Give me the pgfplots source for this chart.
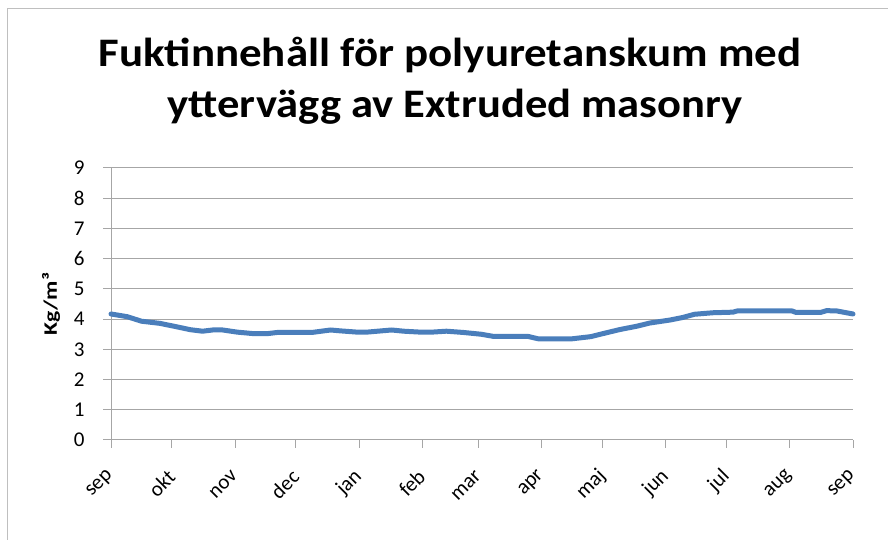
\documentclass[border=0pt]{standalone}
\usepackage{fontspec}
\setmainfont{Carlito}
\usepackage{pgfplots}
\pgfplotsset{compat=1.18}
\definecolor{lineblue}{HTML}{4A7EBB}
\definecolor{gridgray}{HTML}{A6A6A6}
\definecolor{framegray}{HTML}{BFBFBF}
\begin{document}
\begin{tikzpicture}
\useasboundingbox (0pt,0pt) rectangle (888pt,540pt);
\draw[framegray, line width=1pt] (7pt,0pt) -- (7pt,531pt) -- (888pt,531pt);
\node[font=\fontsize{40.5}{48}\selectfont\bfseries, anchor=base] at (450pt,473pt) {\scalebox{1.11}[1]{Fuktinnehåll för polyuretanskum med}};
\node[font=\fontsize{40.5}{48}\selectfont\bfseries, anchor=base] at (455pt,422pt) {\scalebox{1.10}[1]{yttervägg av Extruded masonry}};
\node[font=\fontsize{19}{22}\selectfont\bfseries, rotate=90] at (51pt,236pt) {\scalebox{1.25}[1]{Kg/m³}};
\begin{axis}[
  at={(111pt,100pt)}, anchor=south west,
  scale only axis, width=742pt, height=272pt,
  xmin=0, xmax=365, ymin=0, ymax=9,
  ytick={0,1,2,3,4,5,6,7,8,9},
  xtick={0,30,61,91,122,153,181,212,242,273,303,334,365},
  xticklabels={sep,okt,nov,dec,jan,feb,mar,apr,maj,jun,jul,aug,sep},
  axis lines=left, axis line style={-, gridgray, line width=1pt},
  ymajorgrids, grid style={gridgray, line width=1pt},
  tick align=outside, major tick length=8pt,
  tick style={gridgray, line width=1pt},
  /pgf/number format/assume math mode=true,
  every tick label/.append style={font=\fontsize{21}{25}\selectfont, text=black},
  every x tick label/.append style={yshift=-23pt, xshift=2pt, rotate=45, anchor=east},
  every y tick label/.append style={xshift=-15pt},
  clip=false,
]
\addplot[lineblue, line width=5pt, line join=round, line cap=round] coordinates {
(0,4.17) (8,4.08) (15,3.93) (24,3.86) (32,3.75) (39,3.65) (45,3.60) (50,3.64) (55,3.64)
(62,3.57) (70,3.52) (77,3.52) (82,3.56) (99,3.56) (108,3.64) (113,3.61) (121,3.57) (126,3.57)
(138,3.64) (144,3.60) (152,3.57) (158,3.57) (165,3.60) (173,3.56) (182,3.50) (188,3.43)
(205,3.43) (210,3.35) (227,3.35) (236,3.42) (242,3.52) (250,3.65) (259,3.77) (265,3.87)
(275,3.97) (281,4.05) (287,4.16) (296,4.21) (306,4.23) (308,4.27) (335,4.27) (337,4.22)
(349,4.22) (352,4.28) (357,4.27) (365,4.17)
};
\end{axis}
\end{tikzpicture}
\end{document}
